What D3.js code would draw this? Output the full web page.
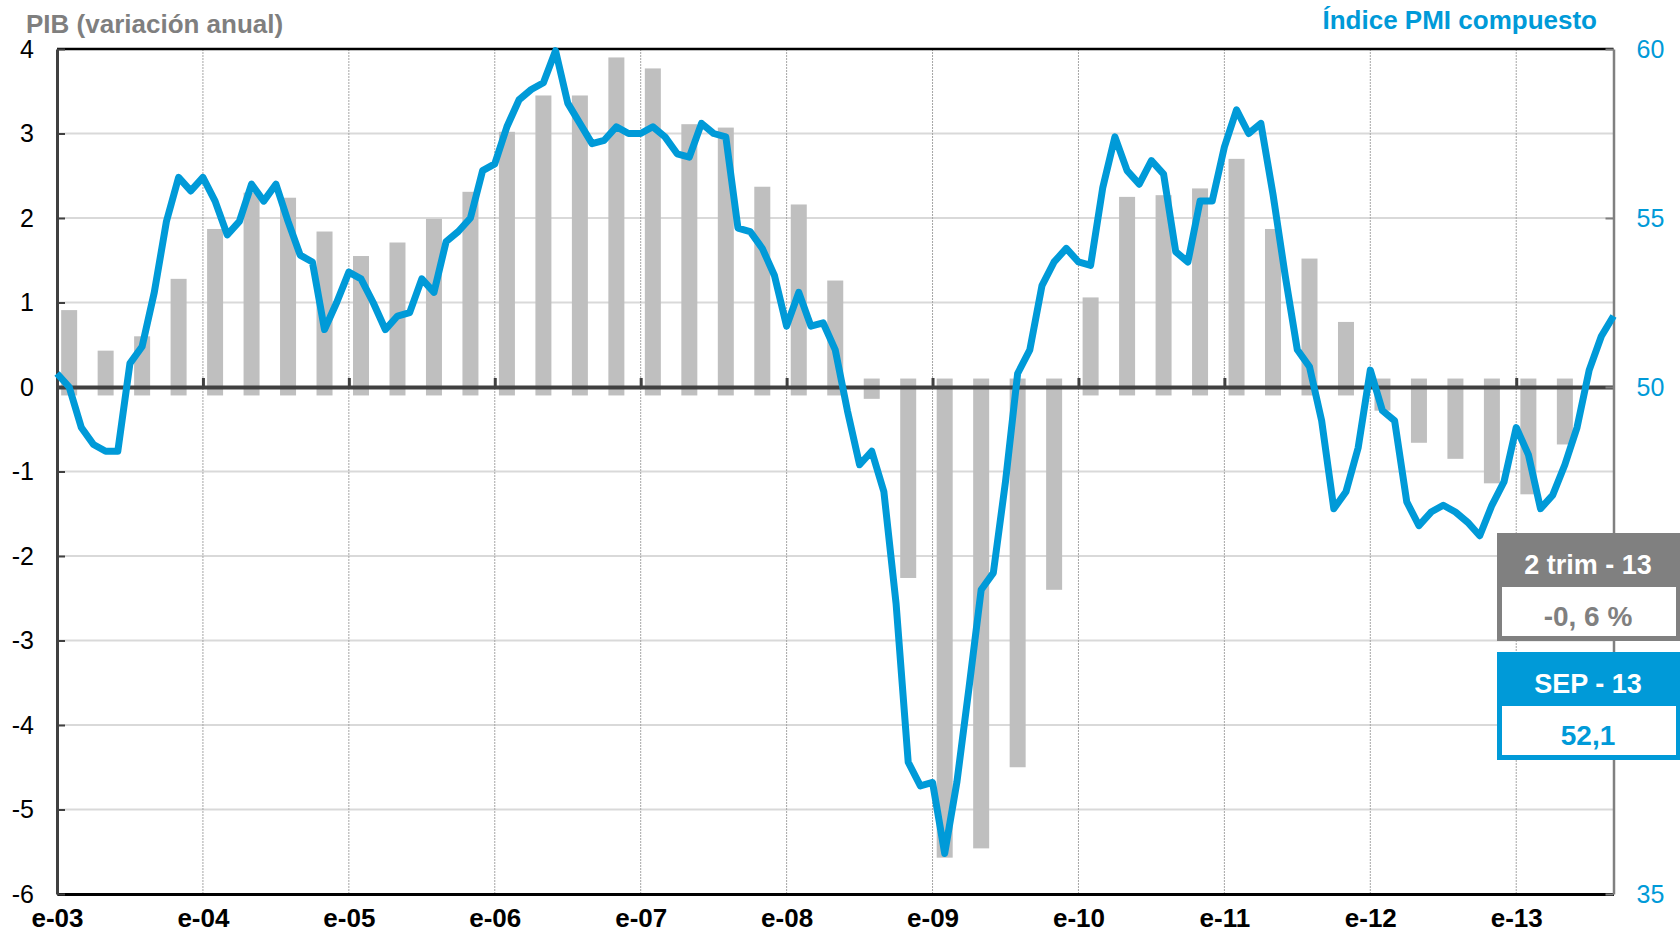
<!DOCTYPE html>
<html>
<head>
<meta charset="utf-8">
<script src="https://cdn.jsdelivr.net/npm/d3@7"></script>
<style>
  body { margin: 0; background: #fff; }
  svg { display: block; font-family: "Liberation Sans", Arial, sans-serif; }
</style>
</head>
<body>
<script>
var w = 1680;
var h = 934;

// Quarterly GDP, annual change (%), Q1 2003 .. Q2 2013
var gdp = [0.91, 0.43, 0.60, 1.28,
           1.87, 2.30, 2.24, 1.84,
           1.55, 1.71, 1.99, 2.31,
           3.02, 3.45, 3.45, 3.90,
           3.77, 3.11, 3.07, 2.37,
           2.16, 1.26, -0.14, -2.26,
           -5.57, -5.46, -4.50, -2.40,
           1.06, 2.25, 2.27, 2.35,
           2.70, 1.87, 1.52, 0.77,
           -0.28, -0.66, -0.85, -1.14,
           -1.27, -0.68];

// Monthly composite PMI, Jan 2003 .. Sep 2013
var pmi = [50.4, 50.0, 48.8, 48.3, 48.1, 48.1, 50.7, 51.2, 52.8, 54.9, 56.2, 55.8,
           56.2, 55.5, 54.5, 54.9, 56.0, 55.5, 56.0, 54.9, 53.9, 53.7, 51.7, 52.5,
           53.4, 53.2, 52.5, 51.7, 52.1, 52.2, 53.2, 52.8, 54.3, 54.6, 55.0, 56.4,
           56.6, 57.7, 58.5, 58.8, 59.0, 59.95, 58.4, 57.8, 57.2, 57.3, 57.7, 57.5,
           57.5, 57.7, 57.4, 56.9, 56.8, 57.8, 57.5, 57.4, 54.7, 54.6, 54.1, 53.3,
           51.8, 52.8, 51.8, 51.9, 51.1, 49.3, 47.7, 48.1, 46.9, 43.6, 38.9, 38.2,
           38.3, 36.2, 38.3, 41.1, 44.0, 44.5, 47.2, 50.4, 51.1, 53.0, 53.7, 54.1,
           53.7, 53.6, 55.9, 57.4, 56.4, 56.0, 56.7, 56.3, 54.0, 53.7, 55.5, 55.5,
           57.1, 58.2, 57.5, 57.8, 55.7, 53.3, 51.1, 50.6, 49.0, 46.4, 46.9, 48.2,
           50.5, 49.3, 49.0, 46.6, 45.9, 46.3, 46.5, 46.3, 46.0, 45.6, 46.5, 47.2,
           48.8, 48.0, 46.4, 46.8, 47.7, 48.8, 50.5, 51.5, 52.1];

var yearLabels = ["e-03", "e-04", "e-05", "e-06", "e-07", "e-08", "e-09", "e-10", "e-11", "e-12", "e-13"];
var leftTicks = [-6, -5, -4, -3, -2, -1, 0, 1, 2, 3, 4];
// 40 and 45 sit behind the value boxes
var rightTicks = [35, 50, 55, 60];

var gdpBox = {head: "2 trim - 13", value: "-0, 6 %"};
var pmiBox = {head: "SEP - 13", value: "52,1"};

var blue = "#009ad8";
var grey = "#808080";

var plotLeft = 57, plotRight = 1613.5, plotTop = 49, plotBottom = 894;

// months since Jan 2003
var xScale = d3.scaleLinear().domain([0, 128]).range([plotLeft, plotRight]);
var yLeft = d3.scaleLinear().domain([-6, 4]).range([plotBottom, plotTop]);
var yRight = d3.scaleLinear().domain([35, 60]).range([plotBottom, plotTop]);

var yearMonths = yearLabels.map(function(d, i) { return i * 12; });

var svg = d3.select("body")
            .append("svg")
            .attr("width", w)
            .attr("height", h);

//Grid lines
svg.append("g")
   .selectAll("line")
   .data(leftTicks.filter(function(d) { return d > -6 && d < 4 && d != 0; }))
   .enter()
   .append("line")
   .attr("x1", plotLeft).attr("x2", plotRight)
   .attr("y1", function(d) { return yLeft(d); })
   .attr("y2", function(d) { return yLeft(d); })
   .attr("stroke", "#d9d9d9")
   .attr("stroke-width", 2);

svg.append("g")
   .selectAll("line")
   .data(yearMonths.slice(1))
   .enter()
   .append("line")
   .attr("x1", function(d) { return xScale(d); })
   .attr("x2", function(d) { return xScale(d); })
   .attr("y1", plotTop).attr("y2", plotBottom)
   .attr("stroke", "#a6a6a6")
   .attr("stroke-width", 1)
   .attr("stroke-dasharray", "2,1");

//Bars (drawn with a small stub across the zero line)
var stub = 0.1;
svg.append("g")
   .selectAll("rect")
   .data(gdp)
   .enter()
   .append("rect")
   .attr("x", function(d, i) { return xScale(i * 3 + 1) - 8; })
   .attr("width", 16)
   .attr("y", function(d) { return yLeft(Math.max(d, stub)); })
   .attr("height", function(d) { return yLeft(Math.min(d, -stub)) - yLeft(Math.max(d, stub)); })
   .attr("fill", "#bfbfbf");

//Zero line with year ticks
var zeroAxis = d3.axisBottom(xScale)
                 .tickValues(yearMonths)
                 .tickSizeInner(-9)
                 .tickSizeOuter(0)
                 .tickFormat("");
var zg = svg.append("g")
   .attr("transform", "translate(0," + yLeft(0) + ")")
   .call(zeroAxis);
zg.select(".domain").attr("stroke", "#404040").attr("stroke-width", 4);
zg.selectAll(".tick line").attr("stroke", "#404040").attr("stroke-width", 3);

//Bottom axis with year labels
var xAxis = d3.axisBottom(xScale)
              .tickValues(yearMonths)
              .tickSize(0)
              .tickPadding(15)
              .tickFormat(function(d, i) { return yearLabels[i]; });
var xg = svg.append("g")
   .attr("transform", "translate(0," + plotBottom + ")")
   .call(xAxis);
xg.select(".domain").attr("stroke", "#000").attr("stroke-width", 3);
xg.selectAll("text")
  .attr("fill", "#000")
  .style("font-size", "26px")
  .style("font-weight", "bold")
  .style("font-family", "Liberation Sans, Arial, sans-serif");

//Top border
svg.append("line")
   .attr("x1", plotLeft).attr("x2", plotRight)
   .attr("y1", plotTop).attr("y2", plotTop)
   .attr("stroke", "#000")
   .attr("stroke-width", 2.5);

//Left axis
var yAxisL = d3.axisLeft(yLeft)
               .tickValues(leftTicks)
               .tickSizeInner(-8)
               .tickSizeOuter(0)
               .tickPadding(23)
               .tickFormat(function(d) { return String(d); });
var lg = svg.append("g")
   .attr("transform", "translate(" + plotLeft + ",0)")
   .call(yAxisL);
lg.select(".domain").attr("stroke", "#404040").attr("stroke-width", 3);
lg.selectAll(".tick line").attr("stroke", "#404040").attr("stroke-width", 2);
lg.selectAll("text")
  .attr("fill", "#000")
  .style("font-size", "25px")
  .style("font-family", "Liberation Sans, Arial, sans-serif");

//Right axis
var yAxisR = d3.axisRight(yRight)
               .tickValues(rightTicks)
               .tickSizeInner(-8)
               .tickSizeOuter(0)
               .tickPadding(23)
               .tickFormat(function(d) { return String(d); });
var rg = svg.append("g")
   .attr("transform", "translate(" + plotRight + ",0)")
   .call(yAxisR);
rg.select(".domain").attr("stroke", grey).attr("stroke-width", 2.5);
rg.selectAll(".tick line").attr("stroke", grey).attr("stroke-width", 2);
rg.selectAll("text")
  .attr("fill", blue)
  .style("font-size", "25px")
  .style("font-family", "Liberation Sans, Arial, sans-serif");

//PMI line
var line = d3.line()
             .x(function(d, i) { return xScale(i); })
             .y(function(d) { return yRight(d); });

svg.append("path")
   .datum(pmi)
   .attr("d", line)
   .attr("fill", "none")
   .attr("stroke", blue)
   .attr("stroke-width", 7)
   .attr("stroke-linejoin", "round");

//Titles
svg.append("text")
   .attr("x", 26).attr("y", 33)
   .attr("fill", "#7f7f7f")
   .style("font-size", "26px")
   .style("font-weight", "bold")
   .text("PIB (variación anual)");

svg.append("text")
   .attr("x", 1597).attr("y", 29)
   .attr("text-anchor", "end")
   .attr("fill", blue)
   .style("font-size", "26px")
   .style("font-weight", "bold")
   .text("Índice PMI compuesto");

//Value boxes
function drawBox(y0, color, info) {
  var g = svg.append("g");
  g.append("rect")
   .attr("x", 1497).attr("y", y0)
   .attr("width", 183).attr("height", 108)
   .attr("fill", color);
  g.append("rect")
   .attr("x", 1502).attr("y", y0 + 54)
   .attr("width", 174).attr("height", 49)
   .attr("fill", "#fff");
  g.append("text")
   .attr("x", 1588).attr("y", y0 + 41)
   .attr("text-anchor", "middle")
   .attr("fill", "#fff")
   .style("font-size", "27px")
   .style("font-weight", "bold")
   .text(info.head);
  g.append("text")
   .attr("x", 1588).attr("y", y0 + 93)
   .attr("text-anchor", "middle")
   .attr("fill", color)
   .style("font-size", "28px")
   .style("font-weight", "bold")
   .text(info.value);
}
drawBox(533, grey, gdpBox);
drawBox(652, blue, pmiBox);
</script>
</body>
</html>
